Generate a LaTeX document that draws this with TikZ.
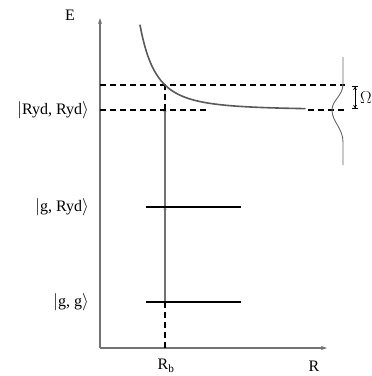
\documentclass[tikz,border=0pt]{standalone}
\usepackage{fontspec}
\setmainfont{Liberation Serif}
\usetikzlibrary{arrows.meta,positioning,calc}

\begin{document}
\begin{tikzpicture}[x=1pt, y=-1pt,
  axis/.style={draw=black!55, line width=1.2pt, -{Stealth[length=6pt,width=4pt]}},
  lvl/.style={line width=1.3pt},
  dsh/.style={line width=1.3pt, dash pattern=on 6pt off 4pt},
  trans/.style={draw=black!55, line width=1.1pt, -{Stealth[length=4pt,width=3pt]}},
  lbl/.style={font=\fontsize{16}{18}\selectfont, inner sep=1pt}]
\useasboundingbox (0,0) rectangle (372,376);
% axes
\coordinate (O) at (100,348);
\coordinate (Etop) at (100,18);
\coordinate (Rend) at (327,348);
\draw[axis] (O) -- (Etop);
\draw[axis] (O) -- (Rend);
\node[lbl] (E) at (70,15) {E};
\node[lbl] (R) at (314,366) {R};
\node[lbl] (Rb) at (166,366) {R$_\mathrm{b}$};
% levels
\coordinate (gg-l) at (146,302);
\coordinate (gg-r) at (241,302);
\coordinate (gr-l) at (146,207);
\coordinate (gr-r) at (241,207);
\coordinate (gg) at (165,302);
\coordinate (gr) at (165,207);
\coordinate (rr) at (165,110);
\coordinate (cross) at (165,85);
\coordinate (Rbax) at (165,348);
% transitions
\draw[trans] (gg) -- ([yshift=1pt]gr);
\draw[trans] ([yshift=-1pt]gr) -- ([yshift=2pt]rr);
\draw[lvl] (gg-l) -- (gg-r);
\draw[lvl] (gr-l) -- (gr-r);
\node[lbl, anchor=east] (ggl) at (90,302) {$|$g, g$\rangle$};
\node[lbl, anchor=east] (grl) at (90,207) {$|$g, Ryd$\rangle$};
\node[lbl, anchor=east] (rrl) at (90,110) {$|$Ryd, Ryd$\rangle$};
% dashed guides
\coordinate (d1-l) at (100,85);
\coordinate (d1-r) at (345,85);
\coordinate (d2-l) at (100,110);
\coordinate (d2-m) at (207,110);
\coordinate (d2-n) at (308,110);
\coordinate (d2-r) at (345,110);
\draw[dsh] (d1-l) -- (d1-r);
\draw[dsh] (d2-l) -- (d2-m);
\draw[dsh] (d2-n) -- (d2-r);
\draw[dsh] (Rbax) -- (gg);
\draw[dsh] (rr) -- (cross);
% potential curve
\draw[black!65, line width=1.6pt, line cap=round]
  plot[domain=140:305, samples=80, smooth] (\x, {110 - 25*(65/(\x-100))^2.52});
% line profile
\coordinate (p-top) at (343,57);
\coordinate (p-bot) at (343,165);
\draw[black!60, line width=0.9pt]
  (p-top) -- (343,84) .. controls (343,96) and (332,100) .. (332,110)
  .. controls (332,122) and (343,128) .. (343,142) -- (p-bot);
% Rabi width
\coordinate (om-t) at (355,86);
\coordinate (om-b) at (355,109);
\draw[line width=0.9pt, {Bar[width=6pt]Stealth[length=3pt,width=4pt]}-{Stealth[length=3pt,width=4pt]Bar[width=6pt]}] (om-t) -- (om-b);
\node[lbl, anchor=west] (Om) at (359,98) {$\Omega$};
\end{tikzpicture}
\end{document}
